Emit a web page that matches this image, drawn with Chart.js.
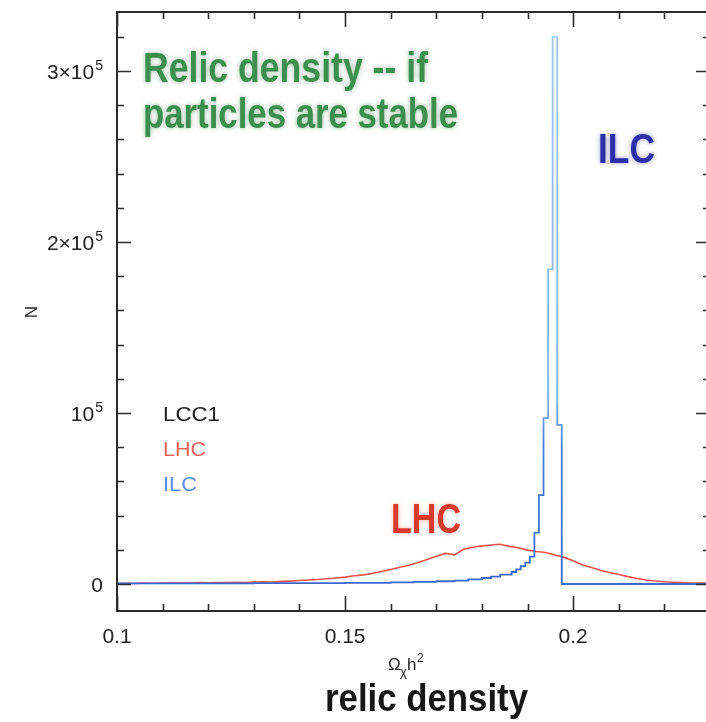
<!DOCTYPE html>
<html>
<head>
<meta charset="utf-8">
<script src="https://cdn.jsdelivr.net/npm/chart.js@4.4.0/dist/chart.umd.min.js"></script>
<style>
    html, body { margin: 0; padding: 0; background: #fff; overflow: hidden; }
    #wrap { width: 711px; height: 722px; }
</style>
</head>
<body>
<div id="wrap"><canvas id="chart_relic" width="711" height="722"></canvas></div>
<script>
// histograms: left edge of each bin, then entries in that bin
var ilc_x = [0.100, 0.130, 0.150, 0.160, 0.165, 0.170, 0.174, 0.177, 0.180, 0.182,
             0.184, 0.1865, 0.1875, 0.1885, 0.1895, 0.1905, 0.1915, 0.1925, 0.1935, 0.1945,
             0.1955, 0.1965, 0.1975, 0.1985, 0.230];
var ilc_n = [300, 400, 500, 700, 900, 1200, 1600, 2000, 2700, 3500,
             4300, 5500, 7000, 8500, 10500, 12500, 16000, 30000, 52000, 97000,
             184000, 320000, 93000, 0, 0];

var lhc_x = [0.100, 0.102, 0.104, 0.106, 0.108, 0.110, 0.112, 0.114, 0.116, 0.118,
             0.120, 0.122, 0.124, 0.126, 0.128, 0.130, 0.132, 0.134, 0.136, 0.138,
             0.140, 0.142, 0.144, 0.146, 0.148, 0.150, 0.152, 0.154, 0.156, 0.158,
             0.160, 0.162, 0.164, 0.166, 0.168, 0.170, 0.172, 0.174, 0.176, 0.178,
             0.180, 0.182, 0.184, 0.186, 0.188, 0.190, 0.192, 0.194, 0.196, 0.198,
             0.200, 0.202, 0.204, 0.206, 0.208, 0.210, 0.212, 0.214, 0.216, 0.218,
             0.220, 0.222, 0.224, 0.226, 0.228, 0.230];
var lhc_n = [300, 400, 300, 500, 400, 600, 500, 700, 600, 800,
             700, 900, 800, 1000, 900, 1100, 1300, 1200, 1500, 1700,
             2000, 2300, 2600, 3100, 3500, 4000, 4800, 5300, 6200, 7300,
             8500, 9800, 11000, 12600, 14300, 16200, 17900, 17000, 20300, 21500,
             22300, 22800, 23200, 22000, 21200, 19800, 19000, 18400, 17000, 15600,
             13600, 11200, 9700, 8000, 6700, 5600, 4300, 3200, 2300, 1700,
             1300, 1000, 800, 600, 500, 500];

var x_ticks = [0.1, 0.15, 0.2];
var x_tick_labels = ["0.1", "0.15", "0.2"];
var y_ticks = [0, 100000, 200000, 300000];
var y_tick_labels = [["0", ""], ["10", "5"], ["2\u00d710", "5"], ["3\u00d710", "5"]];
var legend_labels = ["LCC1", "LHC", "ILC"];
var legend_colors = ["#222222", "#e8625c", "#5b8ee2"];

function puntos(xs, ns) {
    var out = [];
    for (var i = 0; i < xs.length; i++) out.push({ x: xs[i], y: ns[i] });
    return out;
}

// text squeezed/stretched to a given width
function texto(ctx, str, x, y, o) {
    ctx.save();
    ctx.font = o.font;
    ctx.fillStyle = o.color;
    ctx.textBaseline = "alphabetic";
    var w = ctx.measureText(str).width;
    var sx = o.width ? o.width / w : 1;
    ctx.translate(x, y);
    if (o.rotate) ctx.rotate(o.rotate);
    ctx.scale(sx, 1);
    var ax = o.align === "center" ? -w / 2 : (o.align === "right" ? -w : 0);
    if (o.glow) {
        ctx.shadowColor = o.glow;
        ctx.shadowBlur = 5;
    }
    ctx.fillText(str, ax, 0);
    ctx.restore();
}

var marco = {
    id: "marco",
    afterDatasetsDraw: function (chart) {
        var ctx = chart.ctx, a = chart.chartArea;
        var sx = chart.scales.x, sy = chart.scales.y;
        ctx.save();
        ctx.strokeStyle = "#2b2b2b";
        ctx.lineWidth = 2;
        ctx.strokeRect(a.left, a.top, a.right - a.left, a.bottom - a.top);

        ctx.lineWidth = 1.6;
        ctx.beginPath();
        for (var k = 0; k <= 13; k++) {
            var v = 0.1 + k * 0.01;
            var px = Math.round(sx.getPixelForValue(v)) + 0.5;
            var len = (k % 5 === 0) ? 15 : 7;
            ctx.moveTo(px, a.bottom); ctx.lineTo(px, a.bottom - len);
            ctx.moveTo(px, a.top); ctx.lineTo(px, a.top + len);
        }
        for (var j = 0; j <= 16; j++) {
            var py = Math.round(sy.getPixelForValue(j * 20000)) + 0.5;
            var l2 = (j % 5 === 0) ? 14 : 7;
            ctx.moveTo(a.left, py); ctx.lineTo(a.left + l2, py);
            ctx.moveTo(a.right, py); ctx.lineTo(a.right - l2, py);
        }
        ctx.stroke();

        // tick labels
        ctx.fillStyle = "#222";
        ctx.font = "21px 'Liberation Sans', Arial, sans-serif";
        ctx.textAlign = "center";
        ctx.textBaseline = "alphabetic";
        x_ticks.forEach(function (v, i) {
            ctx.fillText(x_tick_labels[i], sx.getPixelForValue(v), 643);
        });
        ctx.textAlign = "left";
        y_ticks.forEach(function (v, i) {
            var py = sy.getPixelForValue(v);
            var base = y_tick_labels[i][0], sup = y_tick_labels[i][1];
            ctx.font = "21px 'Liberation Sans', Arial, sans-serif";
            var wb = ctx.measureText(base).width;
            ctx.font = "14px 'Liberation Sans', Arial, sans-serif";
            var ws = sup ? ctx.measureText(sup).width + 1 : 0;
            var x0 = 103 - wb - ws;
            ctx.font = "21px 'Liberation Sans', Arial, sans-serif";
            ctx.fillText(base, x0, py + 8);
            if (sup) {
                ctx.font = "14px 'Liberation Sans', Arial, sans-serif";
                ctx.fillText(sup, x0 + wb + 1, py - 1);
            }
        });

        // axis titles
        texto(ctx, "N", 37, 312, { font: "17px 'Liberation Sans', Arial, sans-serif", color: "#222", align: "center", rotate: -Math.PI / 2 });
        ctx.fillStyle = "#222";
        ctx.font = "17px 'Liberation Sans', Arial, sans-serif";
        ctx.fillText("\u03a9", 388, 670);
        ctx.font = "13px 'Liberation Sans', Arial, sans-serif";
        ctx.fillText("\u03c7", 400, 676);
        ctx.font = "17px 'Liberation Sans', Arial, sans-serif";
        ctx.fillText("h", 407, 670);
        ctx.font = "12px 'Liberation Sans', Arial, sans-serif";
        ctx.fillText("2", 417, 662);
        texto(ctx, "relic density", 325, 711, { font: "bold 38px 'Liberation Sans Narrow', 'Liberation Sans', Arial, sans-serif", color: "#161616", width: 203 });
        ctx.restore();
    }
};

var letreros = {
    id: "letreros",
    afterDraw: function (chart) {
        var ctx = chart.ctx;
        var verde = "#3c8f4e";
        texto(ctx, "Relic density -- if", 143, 82, { font: "bold 42px 'Liberation Sans Narrow', 'Liberation Sans', Arial, sans-serif", color: verde, width: 285, glow: "rgba(40,110,50,0.45)" });
        texto(ctx, "particles are stable", 143, 128, { font: "bold 42px 'Liberation Sans Narrow', 'Liberation Sans', Arial, sans-serif", color: verde, width: 315, glow: "rgba(40,110,50,0.45)" });
        texto(ctx, "ILC", 598, 163, { font: "bold 42px 'Liberation Sans Narrow', 'Liberation Sans', Arial, sans-serif", color: "#2c2fa6", width: 57, glow: "rgba(40,40,160,0.45)" });
        texto(ctx, "LHC", 391, 533, { font: "bold 42px 'Liberation Sans Narrow', 'Liberation Sans', Arial, sans-serif", color: "#d93a2c", width: 70, glow: "rgba(200,50,40,0.35)" });

        var anchos = [57, 43, 34];
        legend_labels.forEach(function (t, i) {
            texto(ctx, t, 163, 421 + i * 35, { font: "20px 'Liberation Sans', Arial, sans-serif", color: legend_colors[i], width: anchos[i] });
        });
    }
};

function azul_ilc(context) {
    var chart = context.chart;
    if (!chart.chartArea) return "#4a7fdc";
    var sy = chart.scales.y;
    var g = chart.ctx.createLinearGradient(0, sy.getPixelForValue(0), 0, sy.getPixelForValue(320000));
    g.addColorStop(0, "#3b67cf");
    g.addColorStop(0.25, "#4a7fdc");
    g.addColorStop(0.34, "#7fb1ec");
    g.addColorStop(1, "#9ccaf4");
    return g;
}

var ctx_relic = document.getElementById("chart_relic");
var chart_relic = new Chart(ctx_relic, {
    type: "line",
    data: {
        datasets: [
            {
                label: "ILC",
                data: puntos(ilc_x, ilc_n),
                borderColor: azul_ilc,
                borderWidth: 1.8,
                stepped: "after",
                pointRadius: 0,
                fill: false,
            },
            {
                label: "LHC",
                data: puntos(lhc_x, lhc_n),
                borderColor: "#e5554a",
                borderWidth: 1.6,
                tension: 0,
                pointRadius: 0,
                fill: false,
            },
        ],
    },
    options: {
        responsive: false,
        animation: false,
        layout: { padding: { left: 117, top: 12, right: 1, bottom: 111 } },
        scales: {
            x: { type: "linear", min: 0.1, max: 0.23, display: false },
            y: { type: "linear", min: -15800, max: 334500, display: false },
        },
        plugins: {
            legend: { display: false },
            tooltip: { enabled: false },
        },
    },
    plugins: [marco, letreros],
});
</script>
</body>
</html>
